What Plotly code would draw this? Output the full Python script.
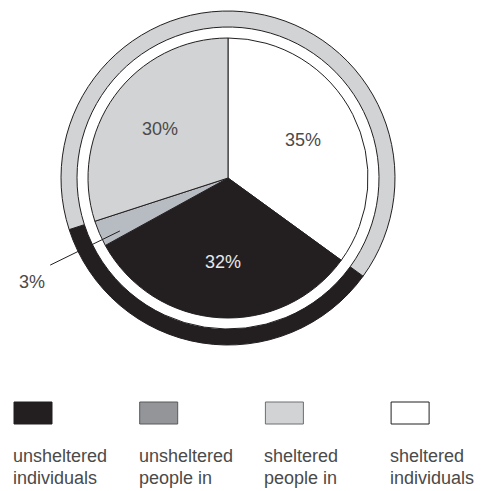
import math
import plotly.graph_objects as go

# --- data -------------------------------------------------------------
categories = [
    "sheltered individuals",
    "unsheltered individuals",
    "unsheltered people in families",
    "sheltered people in families",
]
shares = [35, 32, 3, 30]
slice_colors = ["#ffffff", "#231f20", "#b7bcc3", "#d1d3d4"]

groups = ["unsheltered", "sheltered"]
group_shares = [35, 65]
group_colors = ["#231f20", "#d1d3d4"]

legend_lines = [
    ["unsheltered", "individuals"],
    ["unsheltered", "people in"],
    ["sheltered", "people in"],
    ["sheltered", "individuals"],
]
legend_colors = ["#231f20", "#939598", "#d1d3d4", "#ffffff"]
legend_borders = ["#231f20", "#58595b", "#6d6e71", "#231f20"]

# --- layout constants (pixels) ------------------------------------------
W, H = 481, 491
CX, CY = 228, 178
R_PIE, R_RING_IN, R_RING_OUT = 140, 151, 167
LINE = "#231f20"
TEXT = "#4a4a4a"
FONT = "Liberation Sans, Arial, sans-serif"


def px(x):
    return x / W


def py(y):
    return 1 - y / H


def polar(angle_deg, r):
    a = math.radians(angle_deg)
    return CX + r * math.sin(a), CY - r * math.cos(a)


total = sum(shares)
fig = go.Figure()

# inner pie: four categories, clockwise from 12 o'clock
fig.add_trace(go.Pie(
    labels=categories, values=shares, sort=False, direction="clockwise",
    rotation=0, textinfo="none", hoverinfo="label+percent",
    marker=dict(colors=slice_colors, line=dict(color=LINE, width=1)),
    domain=dict(x=[px(CX - R_PIE), px(CX + R_PIE)],
                y=[py(CY + R_PIE), py(CY - R_PIE)]),
    showlegend=False,
))

# outer ring: sheltered vs unsheltered totals
ring_start = 360 * shares[0] / total
fig.add_trace(go.Pie(
    labels=groups, values=group_shares, sort=False, direction="clockwise",
    rotation=ring_start, hole=R_RING_IN / R_RING_OUT, textinfo="none",
    hoverinfo="label+percent",
    marker=dict(colors=group_colors, line=dict(color=LINE, width=1)),
    domain=dict(x=[px(CX - R_RING_OUT), px(CX + R_RING_OUT)],
                y=[py(CY + R_RING_OUT), py(CY - R_RING_OUT)]),
    showlegend=False,
))

annotations = []
shapes = []

# percentage labels
cum = 0
for val, col in zip(shares, slice_colors):
    a0 = 360 * cum / total
    a1 = 360 * (cum + val) / total
    cum += val
    txt = f"{val}%"
    txt_color = "#e8e8e8" if col == "#231f20" else TEXT
    if val >= 5:
        x, y = polar((a0 + a1) / 2, R_PIE * 0.6)
        annotations.append(dict(
            x=px(x), y=py(y), xref="paper", yref="paper", text=txt,
            showarrow=False, xanchor="center", yanchor="middle",
            font=dict(family=FONT, size=18, color=txt_color)))
    else:
        ang = a0 + 0.25 * (a1 - a0)
        x0, y0 = polar(ang, R_PIE * 0.86)
        x1, y1 = polar(ang, 198)
        shapes.append(dict(
            type="line", xref="paper", yref="paper",
            x0=px(x0), y0=py(y0), x1=px(x1), y1=py(y1),
            line=dict(color=LINE, width=1)))
        annotations.append(dict(
            x=px(x1 - 3), y=py(y1 + 5), xref="paper", yref="paper", text=txt,
            showarrow=False, xanchor="right", yanchor="top",
            font=dict(family=FONT, size=18, color=TEXT)))

# legend swatches and wrapped labels
LEG_X0, LEG_STEP = 14, 125.7
SW_W, SW_TOP, SW_BOT = 38, 402, 424
BASE0, LINE_STEP = 462, 21.5
for i, (lines, fill, border) in enumerate(zip(legend_lines, legend_colors, legend_borders)):
    x0 = LEG_X0 + i * LEG_STEP
    shapes.append(dict(
        type="rect", xref="paper", yref="paper",
        x0=px(x0), x1=px(x0 + SW_W), y0=py(SW_BOT), y1=py(SW_TOP),
        fillcolor=fill, line=dict(color=border, width=1)))
    for j, line in enumerate(lines):
        base = BASE0 + j * LINE_STEP
        annotations.append(dict(
            x=px(x0 - 3), y=py(base - 6), xref="paper", yref="paper",
            text=line, showarrow=False, xanchor="left", yanchor="middle",
            font=dict(family=FONT, size=18, color=TEXT)))

fig.update_layout(
    width=W, height=H, margin=dict(l=0, r=0, t=0, b=0),
    paper_bgcolor="#ffffff", plot_bgcolor="#ffffff",
    annotations=annotations, shapes=shapes,
)

fig.write_html("out.html")
